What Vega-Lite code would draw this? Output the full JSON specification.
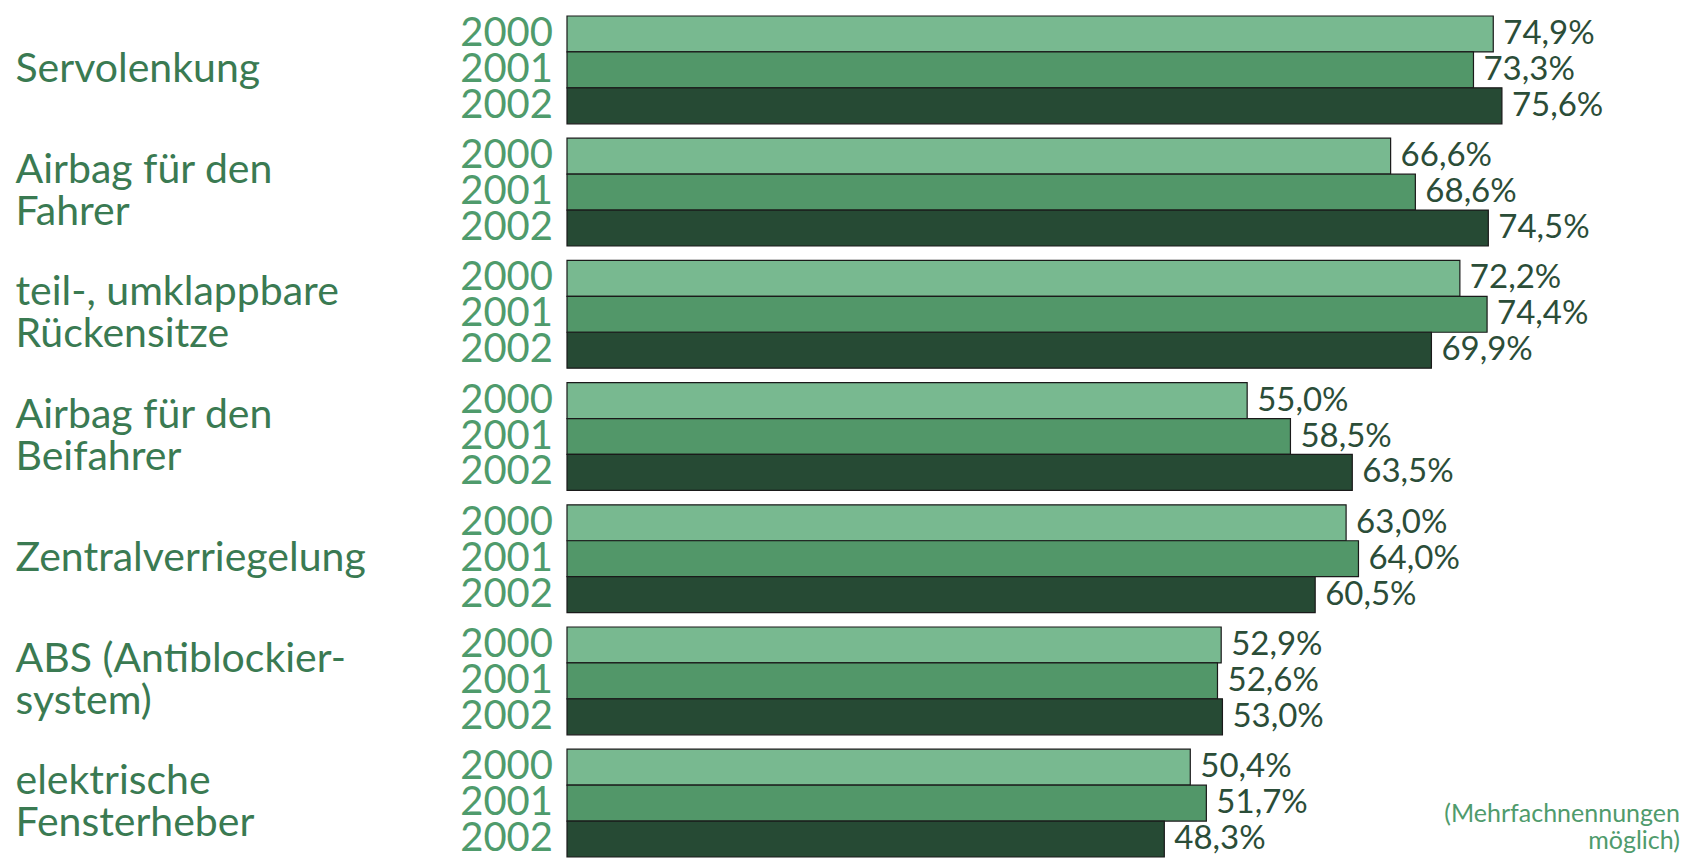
{
  "$schema": "https://vega.github.io/schema/vega-lite/v6.json",
  "width": 1113,
  "height": 841,
  "autosize": {"type": "none"},
  "padding": {"left": 567, "top": 16, "right": 10, "bottom": 3},
  "background": "white",
  "config": {
    "view": {"stroke": null},
    "font": "Lato",
    "locale": {"number": {"decimal": ",", "thousands": ".", "grouping": [3], "currency": ["", " €"]}}
  },
  "data": {
    "values": [
      {"cat": "Servolenkung", "year": "2000", "v": 0.749},
      {"cat": "Servolenkung", "year": "2001", "v": 0.733},
      {"cat": "Servolenkung", "year": "2002", "v": 0.756},
      {"cat": "Airbag für den\nFahrer", "year": "2000", "v": 0.666},
      {"cat": "Airbag für den\nFahrer", "year": "2001", "v": 0.686},
      {"cat": "Airbag für den\nFahrer", "year": "2002", "v": 0.745},
      {"cat": "teil-, umklappbare\nRückensitze", "year": "2000", "v": 0.722},
      {"cat": "teil-, umklappbare\nRückensitze", "year": "2001", "v": 0.744},
      {"cat": "teil-, umklappbare\nRückensitze", "year": "2002", "v": 0.699},
      {"cat": "Airbag für den\nBeifahrer", "year": "2000", "v": 0.550},
      {"cat": "Airbag für den\nBeifahrer", "year": "2001", "v": 0.585},
      {"cat": "Airbag für den\nBeifahrer", "year": "2002", "v": 0.635},
      {"cat": "Zentralverriegelung", "year": "2000", "v": 0.630},
      {"cat": "Zentralverriegelung", "year": "2001", "v": 0.640},
      {"cat": "Zentralverriegelung", "year": "2002", "v": 0.605},
      {"cat": "ABS (Antiblockier-\nsystem)", "year": "2000", "v": 0.529},
      {"cat": "ABS (Antiblockier-\nsystem)", "year": "2001", "v": 0.526},
      {"cat": "ABS (Antiblockier-\nsystem)", "year": "2002", "v": 0.530},
      {"cat": "elektrische\nFensterheber", "year": "2000", "v": 0.504},
      {"cat": "elektrische\nFensterheber", "year": "2001", "v": 0.517},
      {"cat": "elektrische\nFensterheber", "year": "2002", "v": 0.483}
    ]
  },
  "layer": [
    {
      "mark": {"type": "bar", "stroke": "#1a1a1a", "strokeWidth": 1.2},
      "encoding": {
        "y": {
          "field": "cat", "type": "nominal", "sort": null,
          "scale": {"paddingInner": 0.118, "paddingOuter": 0},
          "axis": {
            "title": null, "domain": false, "ticks": false, "tickSize": 0, "grid": false,
            "labelAlign": "left", "labelPadding": 552, "labelFontSize": 41,
            "labelColor": "#3A7A52", "labelFont": "Lato", "labelFontWeight": 400, "labelLineHeight": 42,
            "labelOffset": {"condition": {"test": "indexof(datum.value, '\\n') >= 0", "value": -21}, "value": 0},
            "labelExpr": "split(datum.value, '\\n')", "labelLimit": 0, "labelOverlap": false
          }
        },
        "yOffset": {"field": "year", "type": "nominal", "scale": {"paddingInner": 0, "paddingOuter": 0}},
        "x": {"field": "v", "type": "quantitative", "scale": {"domain": [0, 0.9], "nice": false, "zero": true}, "axis": null},
        "color": {"field": "year", "type": "nominal", "scale": {"domain": ["2000", "2001", "2002"], "range": ["#78B990", "#529769", "#264A34"]}, "legend": null}
      }
    },
    {
      "mark": {"type": "text", "align": "left", "baseline": "middle", "dx": 10, "fontSize": 33, "fontWeight": 400, "color": "#2B4D38", "font": "Lato"},
      "encoding": {
        "y": {"field": "cat", "type": "nominal", "sort": null},
        "yOffset": {"field": "year", "type": "nominal"},
        "x": {"field": "v", "type": "quantitative"},
        "text": {"field": "v", "type": "quantitative", "format": ".1%"}
      }
    },
    {
      "mark": {"type": "text", "align": "right", "baseline": "middle", "dx": -14, "fontSize": 40, "fontWeight": 400, "color": "#4F9B6C", "font": "Lato"},
      "encoding": {
        "y": {"field": "cat", "type": "nominal", "sort": null},
        "yOffset": {"field": "year", "type": "nominal"},
        "x": {"datum": 0},
        "text": {"field": "year", "type": "nominal"}
      }
    },
    {
      "data": {"values": [{"note": "Mehrfachnennungen"}]},
      "mark": {"type": "text", "align": "right", "baseline": "alphabetic", "dy": 19, "fontSize": 25, "fontWeight": 400, "lineHeight": 27, "color": "#4F9B6C", "font": "Lato"},
      "encoding": {
        "y": {"datum": "elektrische\nFensterheber"},
        "x": {"datum": 0.9},
        "text": {"value": ["(Mehrfachnennungen", "möglich)"]}
      }
    }
  ]
}
